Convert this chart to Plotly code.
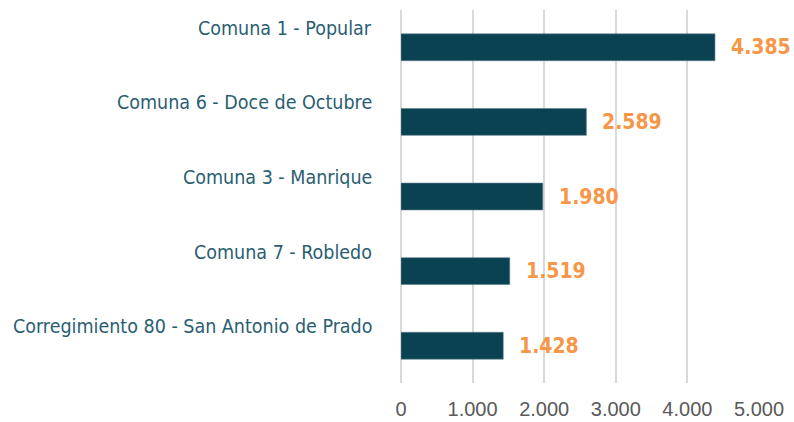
import plotly.graph_objects as go

categorias = [
    "Comuna 1 - Popular",
    "Comuna 6 - Doce de Octubre",
    "Comuna 3 - Manrique",
    "Comuna 7 - Robledo",
    "Corregimiento 80 - San Antonio de Prado",
]
valores = [4385, 2589, 1980, 1519, 1428]
ticks = [0, 1000, 2000, 3000, 4000, 5000]

bar_color = "#0B4252"
label_color = "#2A5E72"
value_color = "#F79646"
narrow = "DejaVu Sans Condensed, Liberation Sans Narrow, sans-serif"

fig = go.Figure()
fig.add_trace(go.Bar(
    x=valores, y=categorias, orientation="h",
    width=0.36,
    marker=dict(color=bar_color, line=dict(color="#5a7f8c", width=0.6)),
    hoverinfo="x+y",
))

# category names sit above each bar, value labels to the right
for cat, v in zip(categorias, valores):
    fig.add_annotation(
        x=0, xref="paper", y=cat, yref="y",
        text=cat, showarrow=False, xanchor="right", yanchor="middle",
        xshift=-27, yshift=19,
        font=dict(family=narrow, size=19.5, color=label_color),
    )
    fig.add_annotation(
        x=v, y=cat, text=f"{v:,}".replace(",", "."),
        showarrow=False, xanchor="left", yanchor="middle", xshift=14,
        font=dict(family=narrow, size=21, color=value_color, weight="bold"),
    )

fig.update_layout(
    width=794, height=422,
    margin=dict(l=401, r=35, t=10, b=39),
    paper_bgcolor="white", plot_bgcolor="white",
    separators=",.",
    showlegend=False,
    xaxis=dict(
        range=[0, 5000], tickvals=ticks, tickformat=",d",
        showgrid=True, gridcolor="#d9d9d9", gridwidth=1.5,
        zeroline=True, zerolinecolor="#d9d9d9", zerolinewidth=1.5,
        showline=False, ticks="", ticklabelstandoff=12, automargin=False,
        tickfont=dict(family="Liberation Sans, Arial, sans-serif", size=20, color="#595959"),
    ),
    yaxis=dict(
        categoryorder="array", categoryarray=categorias[::-1], automargin=False,
        showticklabels=False, showgrid=False, zeroline=False, showline=False,
    ),
)

# drop the default page margin so the figure fills the window
fig.write_html(
    "out.html",
    config={"displayModeBar": False},
    post_script="document.body.style.margin='0';document.body.style.overflow='hidden';",
)
